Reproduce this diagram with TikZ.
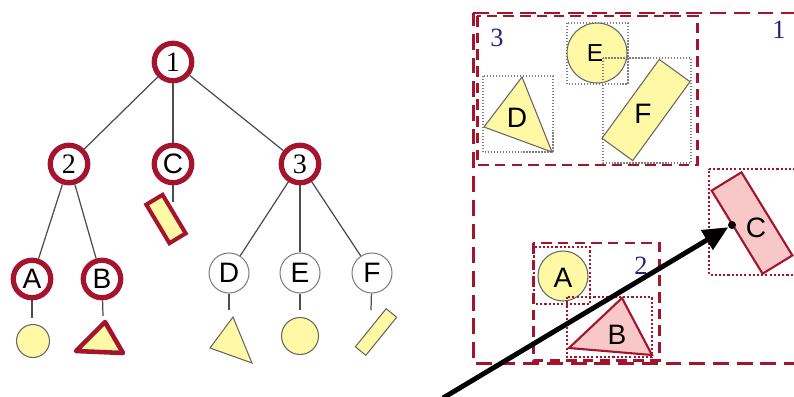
\documentclass[tikz,border=0pt]{standalone}
\usepackage{fontspec}
\setmainfont{Liberation Sans}
\newfontfamily\numfont{Liberation Serif}
\usetikzlibrary{arrows.meta}
\definecolor{boxred}{RGB}{165,20,45}
\definecolor{shapeyellow}{RGB}{255,248,165}
\definecolor{shapepink}{RGB}{248,200,200}
\definecolor{labelblue}{RGB}{35,35,125}
\begin{document}
\begin{tikzpicture}[x=0.02cm, y=-0.02cm,
    full/.style={circle, draw=boxred, line width=3pt, fill=white, minimum size=0.75cm, inner sep=0pt, font=\fontsize{16}{16}\selectfont},
    empty/.style={circle, draw=gray, line width=0.6pt, fill=white, minimum size=0.8cm, inner sep=0pt, font=\fontsize{16}{16}\selectfont},
    branch/.style={draw=black!70, line width=0.7pt},
    yshape/.style={fill=shapeyellow, draw=black!60, line width=0.6pt},
    pshape/.style={fill=shapepink, draw=boxred, line width=1.2pt},
    mbr/.style={draw=boxred, line width=1.7pt, dash pattern=on 6pt off 3.5pt},
    leafbox/.style={draw=boxred, line width=1.5pt, dash pattern=on 1.2pt off 1.2pt},
    objbox/.style={draw=gray, line width=0.7pt, densely dotted},
    boxlabel/.style={text=labelblue, font=\numfont\fontsize{15}{15}\selectfont},
    shapelabel/.style={font=\fontsize{16}{16}\selectfont}]
    \useasboundingbox (0,0) rectangle (794,396);

    \node[full, font=\numfont\fontsize{16}{16}\selectfont] (n1) at (173,62) {1};
    \node[full, font=\numfont\fontsize{16}{16}\selectfont] (n2) at (69,164) {2};
    \node[full] (nC) at (173,164) {C};
    \node[full, font=\numfont\fontsize{16}{16}\selectfont] (n3) at (300,164) {3};
    \node[full] (nA) at (32,279) {A};
    \node[full] (nB) at (102,279) {B};
    \node[empty] (nD) at (229,273) {D};
    \node[empty] (nE) at (300,273) {E};
    \node[empty] (nF) at (372,273) {F};

    \draw[branch] (n1) -- (n2);
    \draw[branch] (n1) -- (nC);
    \draw[branch] (n1) -- (n3);
    \draw[branch] (n2) -- (nA);
    \draw[branch] (n2) -- (nB);
    \draw[branch] (n3) -- (nD);
    \draw[branch] (n3) -- (nE);
    \draw[branch] (n3) -- (nF);

    \coordinate (tA) at (32,318);
    \coordinate (tB) at (103,316);
    \coordinate (tC) at (173,202);
    \coordinate (tD) at (229,310);
    \coordinate (tE) at (300,310);
    \coordinate (tF) at (371,310);
    \draw[branch] (nA) -- (tA);
    \draw[branch] (nB) -- (tB);
    \draw[branch] (nC) -- (tC);
    \draw[branch] (nD) -- (tD);
    \draw[branch] (nE) -- (tE);
    \draw[branch] (nF) -- (tF);

    \node[yshape, circle, minimum size=0.66cm, inner sep=0pt] (sA) at (33,341) {};
    \draw[fill=shapeyellow, draw=boxred, line width=2.6pt, line join=round]
        (76,351) -- (105,322) -- (123,353) -- cycle;
    \node[rectangle, fill=shapeyellow, draw=boxred, line width=2.3pt, rotate=-59,
        minimum width=0.9cm, minimum height=0.38cm, inner sep=0pt] (sC) at (166,219) {};
    \draw[yshape] (233,317) -- (210,348) -- (252,363) -- cycle;
    \node[yshape, circle, minimum size=0.74cm, inner sep=0pt] (sE) at (300,336) {};
    \node[yshape, rectangle, rotate=51, minimum width=0.98cm, minimum height=0.27cm,
        inner sep=0pt] (sF) at (376,332) {};

    \draw[mbr, dash pattern=on 9pt off 4.5pt] (473,13) -- (800,13) (800,363) -- (473,363) -- (473,13);
    \node[boxlabel] (l1) at (779,30) {1};
    \draw[mbr] (477,16) rectangle (697,165);
    \node[boxlabel] (l3) at (497,38) {3};

    \draw[objbox] (483,76) rectangle (553,152);
    \draw[yshape] (522,77) -- (484,127) -- (552,152) -- cycle;
    \node[shapelabel] (rD) at (517,118) {D};

    \draw[objbox] (567,23) rectangle (628,84);
    \node[yshape, circle, minimum size=1.2cm, inner sep=0pt] (rEc) at (597,53) {};
    \node[font=\fontsize{14}{14}\selectfont] (rE) at (595,53) {E};

    \draw[objbox] (603,58) rectangle (691,163);
    \node[yshape, rectangle, rotate=54, minimum width=1.95cm, minimum height=0.76cm,
        inner sep=0pt] (rFr) at (646,110) {};
    \node[shapelabel] (rF) at (643,114) {F};

    \draw[mbr] (533,243) rectangle (659,360);
    \node[boxlabel] (l2) at (641,266) {2};

    \draw[leafbox] (534,247) rectangle (590,304);
    \node[yshape, circle, minimum size=1cm, inner sep=0pt] (rAc) at (563,276) {};
    \node[shapelabel] (rA) at (563,278) {A};

    \draw[leafbox] (567,297) rectangle (652,357);
    \draw[pshape] (622,298) -- (569,348) -- (652,355) -- cycle;
    \node[shapelabel] (rB) at (617,335) {B};

    \draw[leafbox] (709,169) -- (797,169) (797,275) -- (709,275) -- (709,169);
    \node[pshape, rectangle, rotate=-58.5, minimum width=1.95cm, minimum height=0.7cm,
        inner sep=0pt] (rCr) at (752,223) {};
    \node[circle, fill=black, minimum size=0.16cm, inner sep=0pt] (dot) at (732,225) {};
    \node[shapelabel] (rC) at (756,228) {C};

    \coordinate (start) at (443,398);
    \draw[line width=2.8pt, -{Triangle[length=0.5cm, width=0.44cm]}] (start) -- (dot);
\end{tikzpicture}
\end{document}
